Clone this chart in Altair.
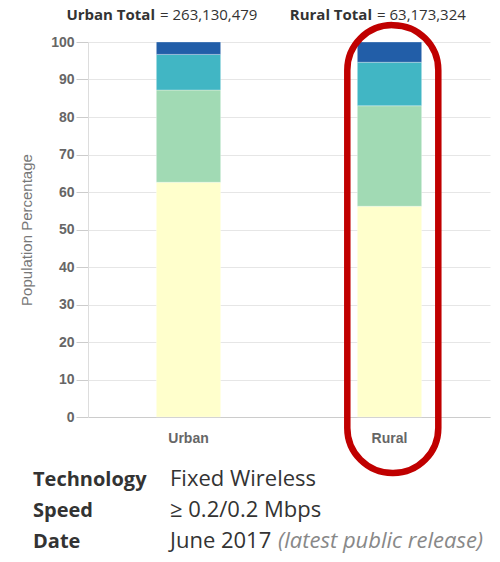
import altair as alt
import pandas as pd

groups = ["Urban", "Rural"]
tiers = ["0 Providers", "1 Provider", "2 Providers", "3+ Providers"]
urban_pct = [62.6, 24.6, 9.5, 3.3]
rural_pct = [56.2, 26.8, 11.6, 5.4]
tier_colors = ["#ffffcc", "#a1dab4", "#41b6c4", "#225ea8"]
totals = [263130479, 63173324]
y_ticks = [0, 10, 20, 30, 40, 50, 60, 70, 80, 90, 100]
info_labels = ["Technology", "Speed", "Date"]
info_values = ["Fixed Wireless", "\u2265 0.2/0.2 Mbps", "June 2017"]
info_note = "(latest public release)"

rows = []
for g, vals in zip(groups, [urban_pct, rural_pct]):
    for i, (t, v) in enumerate(zip(tiers, vals)):
        rows.append({"group": g, "tier": t, "order": i, "value": v})
df = pd.DataFrame(rows)

xscale = alt.Scale(domain=groups, paddingInner=0.68, paddingOuter=0.34)
yscale = alt.Scale(domain=[0, 100], nice=False)

x_axis = alt.Axis(title=None, labelAngle=0, ticks=False, labelPadding=14,
                  labelFont="Liberation Sans", labelFontWeight="bold",
                  labelFontSize=14, labelColor="#666666",
                  domainColor="#cccccc", grid=False)
y_axis = alt.Axis(title="Population Percentage", values=y_ticks, tickCount=11,
                  labelOverlap=False, tickSize=12, tickColor="#cccccc", labelPadding=2,
                  labelFont="Liberation Sans", labelFontWeight="bold",
                  labelFontSize=14, labelColor="#666666",
                  domainColor="#dddddd", gridColor="#e6e6e6",
                  titleFont="Liberation Sans", titleFontWeight="normal",
                  titleFontSize=15, titleColor="#777777", titlePadding=16)

bars = alt.Chart(df).mark_bar(stroke="white", strokeWidth=0.5, strokeOpacity=0.6).encode(
    x=alt.X("group:N", scale=xscale, sort=groups, axis=x_axis),
    y=alt.Y("value:Q", stack="zero", scale=yscale, axis=y_axis),
    color=alt.Color("tier:N", scale=alt.Scale(domain=tiers, range=tier_colors), legend=None),
    order=alt.Order("order:Q", sort="ascending"),
)

ring_df = pd.DataFrame({"group": ["Rural"], "top": [104.5], "bottom": [-14.9]})
ring = alt.Chart(ring_df).mark_bar(
    width=91, cornerRadius=45, fill="transparent", stroke="#c00000", strokeWidth=6.5,
    xOffset=3.3
).encode(
    x=alt.X("group:N", scale=xscale, sort=groups, axis=x_axis),
    y=alt.Y("top:Q", scale=yscale, axis=y_axis),
    y2="bottom:Q",
)


def txt(s, x, y, align="left", weight="normal", size=15, color="#333333", style="normal"):
    return alt.Chart(pd.DataFrame({"t": [s]})).mark_text(
        align=align, baseline="alphabetic", font="Open Sans", fontSize=size,
        fontWeight=weight, fontStyle=style, color=color
    ).encode(x=alt.value(x), y=alt.value(y), text="t:N")


top_texts = [
    txt("Urban Total", 67, -22, align="right", weight="bold"),
    txt("= " + f"{totals[0]:,}", 72, -22),
    txt("Rural Total", 284, -22, align="right", weight="bold"),
    txt("= " + f"{totals[1]:,}", 289, -22),
]

ys = [444, 475, 506]
info_texts = []
for lab, val, yy in zip(info_labels, info_values, ys):
    info_texts.append(txt(lab, -55, yy, weight="bold", size=20))
    info_texts.append(txt(val, 82, yy, size=22))
info_texts.append(txt(info_note, 190, ys[2], size=22, color="#888888", style="italic"))

chart = alt.layer(bars, ring, *top_texts, *info_texts).properties(
    width=402, height=375,
    autosize=alt.AutoSizeParams(type="none"),
    padding={"left": 80, "top": 34, "right": 2, "bottom": 137},
).configure_view(stroke=None)

chart.save("out.html", embed_options={"renderer": "svg", "actions": False})
